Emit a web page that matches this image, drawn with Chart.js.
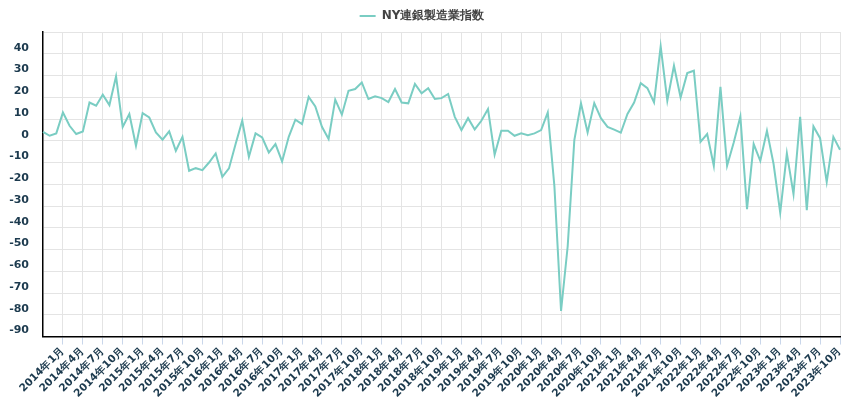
<!DOCTYPE html>
<html>
<head>
<meta charset="utf-8">
<script src="https://cdn.jsdelivr.net/npm/chart.js@4/dist/chart.umd.min.js"></script>
<style>
  html, body { margin: 0; padding: 0; background: #fff; }
  #wrap { width: 850px; height: 400px; }
</style>
</head>
<body>
<div id="wrap"><canvas id="chart"></canvas></div>
<script>
// monthly, 2013年10月 .. 2023年10月
var startYear = 2013;
var startMonth = 10;
var monthCount = 121;

var seriesName = 'NY連銀製造業指数';
var values = [
    4.1, 2.3, 3.4, 13.0, 6.9, 3.1, 4.3, 17.6, 16.1, 21.2, 16.4, 29.6, 6.4, 12.3, -2.3, 12.7, 10.7, 3.8, 0.5, 4.3, -4.6,
    1.8, -13.8, -12.6, -13.5, -10.0, -5.8, -16.6, -12.7, -1.5, 9.2, -7.4, 3.4, 1.5, -5.4, -1.5, -9.5, 1.8, 9.7, 7.7, 20.2, 15.8,
    6.4, 0.8, 18.9, 12.0, 23.0, 23.8, 26.8, 19.2, 20.4, 19.6, 17.8, 23.8, 17.6, 17.2, 26.1, 21.8, 24.2, 19.2, 19.6, 21.5,
    11.0, 4.9, 10.4, 5.2, 9.2, 14.6, -6.4, 4.6, 4.6, 2.3, 3.4, 2.6, 3.4, 4.9, 13.0, -21.0, -78.2, -48.5, 0.3, 17.2,
    3.8, 17.3, 10.4, 6.4, 5.1, 3.7, 12.3, 17.6, 26.5, 24.2, 17.6, 43.4, 18.4, 34.5, 19.9, 31.1, 32.2, -0.5, 3.1, -11.5,
    24.8, -11.5, -0.8, 11.2, -31.4, -1.5, -9.2, 4.6, -10.7, -33.0, -5.8, -24.5, 11.0, -31.9, 6.6, 1.2, -18.9, 1.8, -4.1
];
var labelMonths = [1, 4, 7, 10];

var labels = [];
var labelMonth = [];
for (var i = 0; i < monthCount; i++) {
    var m = (startMonth - 1 + i) % 12 + 1;
    var y = startYear + Math.floor((startMonth - 1 + i) / 12);
    labels.push(y + '年' + m + '月');
    labelMonth.push(m);
}

var tickColor = '#1c3a4e';

new Chart(document.getElementById('chart'), {
    type: 'line',
    data: {
        labels: labels,
        datasets: [{
            label: seriesName,
            data: values,
            borderColor: '#7acdc3',
            backgroundColor: '#7acdc3',
            borderWidth: 2,
            pointRadius: 0,
            pointHoverRadius: 0,
            tension: 0,
            fill: false
        }]
    },
    options: {
        responsive: true,
        maintainAspectRatio: false,
        animation: false,
        layout: { padding: { left: 4, right: 10, top: 0, bottom: 0 } },
        plugins: {
            legend: {
                display: true,
                position: 'top',
                labels: {
                    usePointStyle: true,
                    pointStyle: 'line',
                    pointStyleWidth: 16,
                    color: '#444',
                    font: { family: 'DejaVu Sans', size: 12, weight: 'bold' },
                    padding: 10
                }
            },
            tooltip: { enabled: false }
        },
        scales: {
            x: {
                type: 'category',
                offset: false,
                grid: {
                    color: '#e4e4e4',
                    tickColor: '#c9d6ea',
                    tickLength: 8
                },
                border: { color: '#000', width: 1.5 },
                ticks: {
                    autoSkip: false,
                    maxRotation: 45,
                    minRotation: 45,
                    padding: 0,
                    color: tickColor,
                    font: { family: 'DejaVu Sans', size: 10.5, weight: 'bold' },
                    callback: function (val, idx) {
                        if (idx === 0) return null;
                        return labelMonths.indexOf(labelMonth[idx]) >= 0 ? labels[idx] : null;
                    }
                }
            },
            y: {
                min: -90,
                max: 50,
                grid: { color: '#e4e4e4', drawTicks: false },
                border: { color: '#000', width: 1.5 },
                afterFit: function (scale) {
                    scale.width = 39;
                },
                ticks: {
                    stepSize: 10,
                    padding: 14,
                    labelOffset: -6,
                    color: tickColor,
                    font: { family: 'DejaVu Sans', size: 11, weight: 'bold' },
                    callback: function (v) {
                        return v === 50 ? '' : v;
                    }
                }
            }
        }
    }
});
</script>
</body>
</html>
